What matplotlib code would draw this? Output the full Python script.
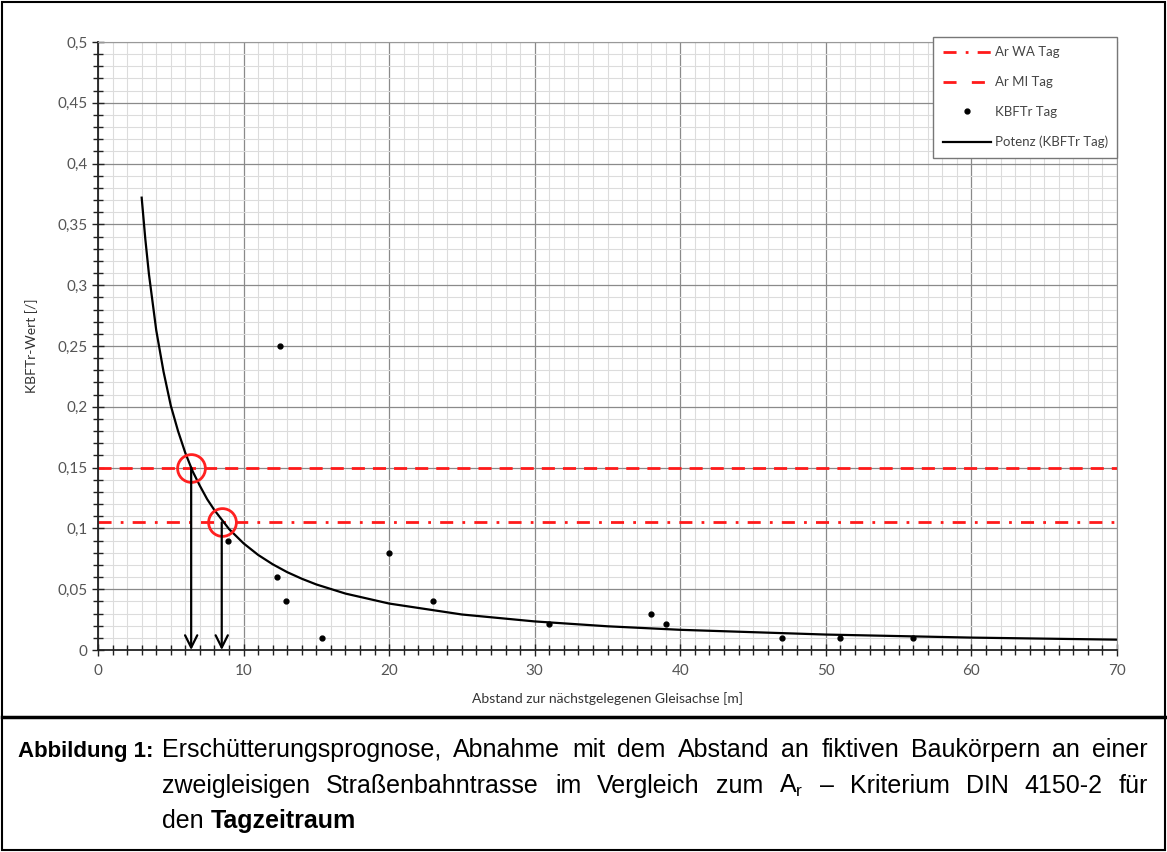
import matplotlib
matplotlib.use('Agg')
import matplotlib.pyplot as plt
from matplotlib.ticker import MultipleLocator, FuncFormatter
from matplotlib.lines import Line2D

# Messpunkte KBFTr Tag
dist_m = [8.9, 12.3, 12.5, 12.9, 15.4, 20, 23, 31, 38, 39, 47, 51, 56]
kbftr = [0.09, 0.06, 0.25, 0.04, 0.01, 0.08, 0.04, 0.021, 0.03, 0.021, 0.01, 0.01, 0.01]

# Potenz-Trendlinie
trend_x = [3, 3.25, 3.5, 4, 4.5, 5, 5.5, 6, 6.5, 7, 7.5, 8, 9, 10, 11, 12, 13, 14, 15,
           17, 20, 25, 30, 35, 40, 50, 60, 70]
trend_y = [0.372, 0.338, 0.309, 0.263, 0.229, 0.201, 0.180, 0.162, 0.147, 0.135, 0.124,
           0.115, 0.0995, 0.0877, 0.0782, 0.0705, 0.064, 0.0586, 0.0539,
           0.0464, 0.0382, 0.0292, 0.0235, 0.0195, 0.0166, 0.0127, 0.0102, 0.0085]

# Anhaltswerte Ar
ar_wa = 0.105
ar_mi = 0.15
# Schnittpunkte (Abstand)
cross_x = [6.4, 8.5]
cross_y = [ar_mi, ar_wa]

caption_lines = [
    'Erschütterungsprognose, Abnahme mit dem Abstand an fiktiven Baukörpern an einer',
    r'zweigleisigen Straßenbahntrasse im Vergleich zum $\mathrm{A_r}$ – Kriterium DIN 4150-2 für',
]

FONT = ['Lato', 'DejaVu Sans']
CAP = ['Liberation Sans', 'DejaVu Sans']
plt.rcParams['font.family'] = FONT
plt.rcParams['mathtext.fontset'] = 'custom'
plt.rcParams['mathtext.rm'] = 'Liberation Sans'

RED = '#ff1a1a'
WA_DASH = (4.7, 3.3, 1, 3.3)
MI_DASH = (4.7, 2.9)

fig = plt.figure(figsize=(11.67, 8.52), dpi=100)
ax = fig.add_axes([98 / 1167, 1 - 650 / 852, (1117 - 98) / 1167, (650 - 42) / 852])

ax.set_xlim(0, 70)
ax.set_ylim(0, 0.5)
ax.xaxis.set_major_locator(MultipleLocator(10))
ax.xaxis.set_minor_locator(MultipleLocator(1))
ax.yaxis.set_major_locator(MultipleLocator(0.05))
ax.yaxis.set_minor_locator(MultipleLocator(0.01))
fmt = FuncFormatter(lambda v, p: ('%g' % round(v, 3)).replace('.', ','))
ax.xaxis.set_major_formatter(fmt)
ax.yaxis.set_major_formatter(fmt)
ax.grid(which='major', color='#8a8a8a', lw=0.9)
ax.grid(which='minor', color='#dcdcdc', lw=0.8)
ax.set_axisbelow(True)
ax.tick_params(which='both', direction='inout', color='#222222', labelcolor='#555555',
               labelsize=11)
ax.tick_params(which='major', length=8, width=1)
ax.tick_params(which='minor', length=7, width=1)
ax.tick_params(axis='x', pad=6)
for s in ['top', 'right']:
    ax.spines[s].set_color('#999999')
for s in ['left', 'bottom']:
    ax.spines[s].set_color('#222222')
    ax.spines[s].set_linewidth(1.3)

ax.axhline(ar_wa, color=RED, lw=2, dashes=WA_DASH)
ax.axhline(ar_mi, color=RED, lw=2, dashes=MI_DASH)
ax.plot(dist_m, kbftr, 'o', color='black', ms=3.5, ls='none')
ax.plot(trend_x, trend_y, color='black', lw=1.6)

for cx, cy in zip(cross_x, cross_y):
    ax.plot(cx, cy, 'o', mfc='none', mec='#ff2020', mew=2, ms=20)
    ax.annotate('', xy=(cx, 0), xytext=(cx, cy),
                arrowprops=dict(arrowstyle='->', lw=1.6, color='black', mutation_scale=22,
                                shrinkA=0, shrinkB=0))

handles = [
    Line2D([], [], color=RED, lw=2, dashes=(4.7, 3.3, 1, 3.3)),
    Line2D([], [], color=RED, lw=2, dashes=(4.7, 5.5)),
    Line2D([], [], color='black', marker='o', ms=3.5, ls='none'),
    Line2D([], [], color='black', lw=1.6),
]
labels = ['Ar WA Tag', 'Ar MI Tag', 'KBFTr Tag', 'Potenz (KBFTr Tag)']
leg = ax.legend(handles, labels, loc='upper right', bbox_to_anchor=(1.0, 1.008),
                fancybox=False, framealpha=1, edgecolor='#777777', fontsize=9.5,
                handlelength=3.7, handletextpad=0.25, borderpad=0.7, labelspacing=1.35,
                borderaxespad=0.0)
for t in leg.get_texts():
    t.set_color('#444444')

ax.set_ylabel('KBFTr-Wert [/]', fontsize=10, color='#333333', labelpad=14)
ax.set_xlabel('Abstand zur nächstgelegenen Gleisachse [m]', fontsize=10,
              color='#333333', labelpad=10)

# Rahmen und Bildunterschrift
fig.add_artist(plt.Rectangle((0.002, 0.002), 0.996, 0.996, transform=fig.transFigure,
                             fill=False, ec='black', lw=1.5))
fig.add_artist(Line2D([0.002, 0.998], [1 - 717 / 852] * 2, transform=fig.transFigure,
                      color='black', lw=2.5))

W, H = 1167, 852
fs = 18
fig.text(18 / W, 1 - 757 / H, 'Abbildung 1:', family=CAP, weight='bold',
         fontsize=16, va='baseline')

renderer = fig.canvas.get_renderer()
x0, x1 = 162, 1148
for line, base in zip(caption_lines, [757, 793]):
    words = line.split(' ')
    texts = [fig.text(0, 1 - base / H, w, family=CAP, fontsize=fs, va='baseline')
             for w in words]
    widths = [t.get_window_extent(renderer).width for t in texts]
    gap = (x1 - x0 - sum(widths)) / (len(words) - 1)
    x = x0
    for t, w in zip(texts, widths):
        t.set_x(x / W)
        x += w + gap

t1 = fig.text(x0 / W, 1 - 828 / H, 'den ', family=CAP, fontsize=fs, va='baseline')
bb = t1.get_window_extent(renderer)
fig.text(bb.x1 / W, 1 - 828 / H, 'Tagzeitraum', family=CAP,
         weight='bold', fontsize=fs, va='baseline')

plt.savefig('out.png', dpi=100)
